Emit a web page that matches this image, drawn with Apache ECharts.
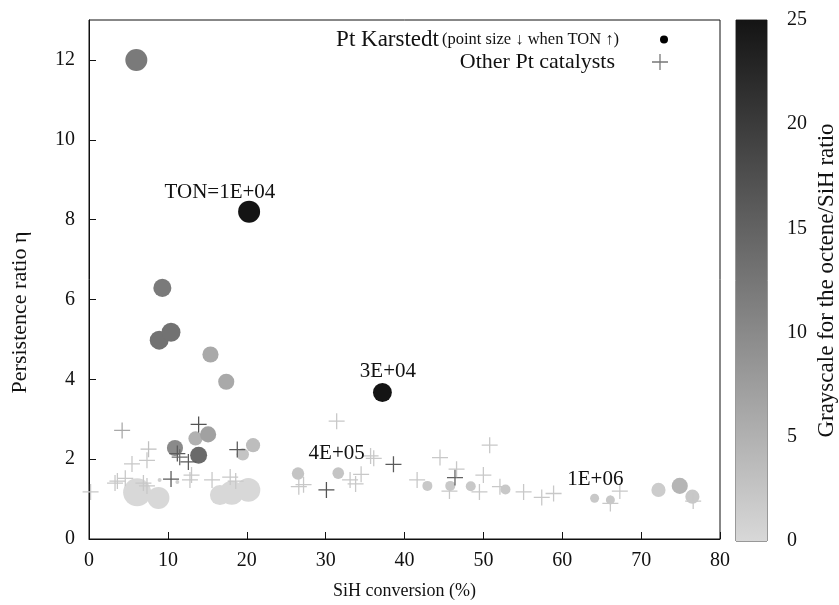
<!DOCTYPE html>
<html>
<head>
<meta charset="utf-8">
<script src="https://cdn.jsdelivr.net/npm/echarts@6/dist/echarts.min.js"></script>
<style>
  html, body { margin: 0; padding: 0; background: #fff; }
  #chart { width: 839px; height: 605px; }
</style>
</head>
<body>
<div id="chart"></div>
<script>
// Pt Karstedt points: conversion (%), persistence ratio, octene/SiH ratio, TON
var karX     = [6.0, 20.3, 9.3, 8.9, 10.4, 15.4, 17.4, 37.2, 10.9, 13.5, 15.1, 13.9, 19.5, 20.8,
                6.1, 8.8, 16.6, 18.1, 20.2, 8.95, 11.2, 26.5, 31.6, 42.9, 45.8, 48.4, 52.8,
                64.1, 66.1, 72.2, 74.9, 76.5];
var karY     = [12.0, 8.2, 6.29, 4.98, 5.18, 4.62, 3.94, 3.67, 2.28, 2.52, 2.62, 2.10, 2.12, 2.35,
                1.17, 1.03, 1.10, 1.16, 1.23, 1.48, 1.43, 1.64, 1.65, 1.33, 1.33, 1.32, 1.24,
                1.02, 0.98, 1.23, 1.33, 1.06];
var karRatio = [12, 25, 12, 13, 13, 6, 6, 25, 10, 5, 7, 14, 2.5, 3.5,
                0, 0, 0, 0, 0, 1, 1, 2.5, 2.5, 2, 2, 2, 2,
                2, 2, 1.5, 4.5, 2];
var karTON   = [1e4, 1e4, 4e4, 3e4, 3e4, 8e4, 8e4, 3e4, 8e4, 1.6e5, 8e4, 6e4, 3e5, 1.6e5,
                1.2e3, 1e4, 2e4, 5e3, 5e3, 6e6, 6e6, 3e5, 4e5, 7e5, 7e5, 7e5, 7e5,
                1e6, 1e6, 1.6e5, 8e4, 1.6e5];

// Other Pt catalysts
var othX     = [0.2, 4.2, 3.3, 3.6, 4.6, 5.45, 7.35, 7.55, 7.35, 6.9, 10.4, 11.2, 11.5, 12.6,
                12.8, 13.0, 13.9, 15.6, 17.9, 18.6, 18.8, 26.6, 27.2, 30.1, 31.4, 33.1, 33.8,
                34.5, 35.7, 36.1, 38.6, 41.6, 44.5, 45.7, 46.4, 46.6, 49.5, 50.0, 50.8, 52.1,
                55.1, 57.4, 58.9, 66.1, 67.3, 76.6];
var othY     = [1.18, 2.72, 1.40, 1.45, 1.52, 1.88, 1.97, 2.25, 1.33, 1.40, 1.50, 2.14, 2.05, 1.93,
                1.48, 1.60, 2.87, 1.48, 1.55, 1.45, 2.24, 1.31, 1.36, 1.23, 2.95, 1.48, 1.38,
                1.62, 2.08, 2.02, 1.87, 1.48, 2.04, 1.20, 1.54, 1.75, 1.18, 1.60, 2.35, 1.31,
                1.18, 1.04, 1.14, 0.89, 1.20, 0.95];
var othRatio = [2, 6, 2, 2, 2, 2, 2, 3, 2, 2, 16, 16, 14, 16,
                2, 2, 17, 2, 2, 2, 16, 2, 2, 17, 2, 2, 2,
                2, 2, 2, 16, 2, 2, 2, 15, 2, 2, 2, 2, 2,
                2, 2, 2, 2, 2, 2];

// TON annotations
var noteText = ['TON=1E+04', '3E+04', '4E+05', '1E+06'];
var noteX    = [16.6, 37.9, 31.4, 64.2];
var noteY    = [8.69, 4.19, 2.14, 1.49];

var xTicks = [0, 80, 10];
var yTicks = [0, 13, 2];
var cbTicks = [0, 25, 5];

var karData = karX.map(function (x, i) { return [x, karY[i], karRatio[i], karTON[i]]; });
var othData = othX.map(function (x, i) { return [x, othY[i], othRatio[i]]; });
var noteData = noteText.map(function (t, i) { return { name: t, value: [noteX[i], noteY[i]] }; });

var serif = '"Liberation Serif", "DejaVu Serif", serif';
var crossPath = 'path://M4.6,0H5.4V4.6H10V5.4H5.4V10H4.6V5.4H0V4.6H4.6Z';

var chart = echarts.init(document.getElementById('chart'), null, { renderer: 'canvas' });

chart.setOption({
  backgroundColor: '#fff',
  animation: false,
  textStyle: { fontFamily: serif },
  grid: [
    { left: 89, right: 119, top: 20, bottom: 64, show: true, borderColor: '#111', borderWidth: 1 },
    { left: 736, right: 71, top: 20, bottom: 64, show: true, borderColor: '#333', borderWidth: 1 }
  ],
  xAxis: [{
    gridIndex: 0, type: 'value', min: xTicks[0], max: xTicks[1], interval: xTicks[2],
    name: 'SiH conversion (%)', nameLocation: 'middle', nameGap: 43,
    nameTextStyle: { fontSize: 18, color: '#111', fontFamily: serif },
    axisLine: { lineStyle: { color: '#111' } },
    axisTick: { inside: true, length: 7, lineStyle: { color: '#111' } },
    axisLabel: { fontSize: 20, color: '#111', margin: 12, fontFamily: serif },
    splitLine: { show: false }
  }, {
    gridIndex: 1, type: 'category', data: ['c'], show: false
  }],
  yAxis: [{
    gridIndex: 0, type: 'value', min: yTicks[0], max: yTicks[1], interval: yTicks[2],
    name: 'Persistence ratio η', nameLocation: 'middle', nameGap: 58, nameRotate: 90,
    nameTextStyle: { fontSize: 22, color: '#111', fontFamily: serif, padding: [0, 66, 0, 0] },
    axisLine: { lineStyle: { color: '#111' } },
    axisTick: { inside: true, length: 7, lineStyle: { color: '#111' } },
    axisLabel: { fontSize: 20, color: '#111', margin: 14, showMaxLabel: false, fontFamily: serif },
    splitLine: { show: false }
  }, {
    gridIndex: 1, type: 'value', position: 'right', min: cbTicks[0], max: cbTicks[1], interval: cbTicks[2],
    name: 'Grayscale for the octene/SiH ratio', nameLocation: 'middle', nameGap: 48, nameRotate: 90,
    nameTextStyle: { fontSize: 23, color: '#111', fontFamily: serif },
    z: 5,
    axisLine: { show: false },
    axisTick: { inside: true, length: 6, lineStyle: { color: '#333' } },
    axisLabel: { fontSize: 20, color: '#111', margin: 20, fontFamily: serif },
    splitLine: { show: false }
  }, {
    gridIndex: 1, type: 'value', position: 'left', min: cbTicks[0], max: cbTicks[1], interval: cbTicks[2],
    z: 5,
    axisLine: { show: false },
    axisTick: { inside: true, length: 6, lineStyle: { color: '#333' } },
    axisLabel: { show: false },
    splitLine: { show: false }
  }],
  visualMap: {
    type: 'continuous', show: false, min: 0, max: 25, dimension: 2, seriesIndex: [0, 1],
    inRange: { color: ['#d8d8d8', '#141414'] }
  },
  legend: [{
    data: [{ name: 'Pt Karstedt', icon: 'circle', itemStyle: { color: '#000' } }],
    align: 'right', right: 171, top: 28, padding: 0,
    itemWidth: 80, itemHeight: 8,
    selectedMode: false,
    formatter: function (n) { return '{a|' + n + '} {b|(point size ↓ when TON ↑)}'; },
    textStyle: {
      color: '#111',
      rich: {
        a: { fontSize: 23, fontFamily: serif, color: '#111' },
        b: { fontSize: 16.5, fontFamily: serif, color: '#111' }
      }
    }
  }, {
    data: [{ name: 'Other Pt catalysts', icon: crossPath, itemStyle: { color: '#777' } }],
    align: 'right', right: 171, top: 51, padding: 0,
    itemWidth: 80, itemHeight: 16,
    selectedMode: false,
    textStyle: { fontSize: 22, fontFamily: serif, color: '#111' }
  }],
  series: [{
    name: 'Pt Karstedt', type: 'scatter', xAxisIndex: 0, yAxisIndex: 0,
    symbol: 'circle',
    symbolSize: function (v) { return 48 - 6.5 * Math.log10(v[3]); },
    itemStyle: { color: '#000', opacity: 1 },
    data: karData
  }, {
    name: 'Other Pt catalysts', type: 'scatter', xAxisIndex: 0, yAxisIndex: 0,
    symbol: crossPath, symbolSize: 16,
    itemStyle: { color: '#777', opacity: 1 },
    data: othData
  }, {
    name: 'notes', type: 'scatter', xAxisIndex: 0, yAxisIndex: 0,
    symbolSize: 0, silent: true,
    itemStyle: { opacity: 1 },
    label: {
      show: true, position: 'inside', formatter: '{b}',
      fontSize: 21, fontFamily: serif, color: '#111'
    },
    data: noteData
  }, {
    name: 'colorbar', type: 'bar', xAxisIndex: 1, yAxisIndex: 1,
    barWidth: '100%', silent: true, z: 1,
    itemStyle: {
      color: new echarts.graphic.LinearGradient(0, 0, 0, 1, [
        { offset: 0, color: '#141414' },
        { offset: 1, color: '#d8d8d8' }
      ])
    },
    data: [cbTicks[1]]
  }]
});
</script>
</body>
</html>
